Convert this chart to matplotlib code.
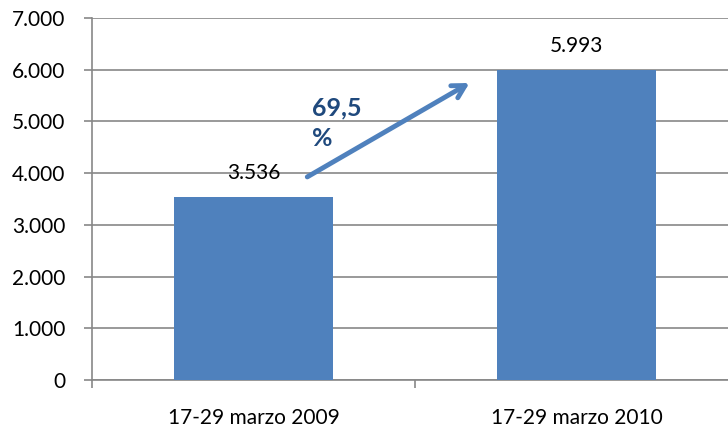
import matplotlib
matplotlib.use("Agg")
import matplotlib.pyplot as plt
from matplotlib.ticker import FuncFormatter

categories = ["17-29 marzo 2009", "17-29 marzo 2010"]
values = [3536, 5993]
value_labels = ["3.536", "5.993"]
growth_label = "69,5\n%"
yticks = [0, 1000, 2000, 3000, 4000, 5000, 6000, 7000]

plt.rcParams['font.family'] = ['Lato', 'DejaVu Sans']

fig = plt.figure(figsize=(7.28, 4.32), dpi=100)
ax = fig.add_axes([92/728, 52/432, 646/728, 362/432])

bar_color = "#4F81BD"
grid_color = "#878787"
x = list(range(len(categories)))
ax.bar(x, values, width=0.495, color=bar_color, zorder=3)

ax.set_xlim(-0.5, len(categories) - 0.5)
ax.set_ylim(0, 7000)
ax.set_yticks(yticks)
ax.yaxis.set_major_formatter(FuncFormatter(lambda v, p: f"{int(v):,}".replace(",", ".")))
ax.grid(axis='y', color=grid_color, linewidth=1.2, zorder=0)

# category boundary ticks, labels at centers
ax.set_xticks([-0.5, 0.5, 1.5])
ax.set_xticklabels([])
ax.set_xticks(x, minor=True)
ax.set_xticklabels(categories, minor=True)
ax.tick_params(axis='x', which='minor', length=0, pad=20, labelsize=15)
ax.tick_params(axis='x', which='major', length=6, color=grid_color, width=1.2)
ax.tick_params(axis='y', length=6, color=grid_color, width=1.2, labelsize=15, pad=13)

for s in ['top', 'right']:
    ax.spines[s].set_visible(False)
for s in ['left', 'bottom']:
    ax.spines[s].set_color(grid_color)
    ax.spines[s].set_linewidth(1.2)

for xi, v, lab in zip(x, values, value_labels):
    ax.annotate(lab, (xi, v), xytext=(0, 10), textcoords='offset points',
                ha='center', va='bottom', fontsize=15, color='black')

ax.annotate("", xy=(0.676, 5770), xytext=(0.159, 3900),
            arrowprops=dict(arrowstyle='->,head_length=0.9,head_width=0.5',
                            color=bar_color, lw=3.5), zorder=5)
ax.text(0.181, 5480, growth_label, fontsize=18, fontweight='bold',
        color="#1F497D", ha='left', va='top', linespacing=1.4, zorder=6)

fig.savefig("out.png", dpi=100)
